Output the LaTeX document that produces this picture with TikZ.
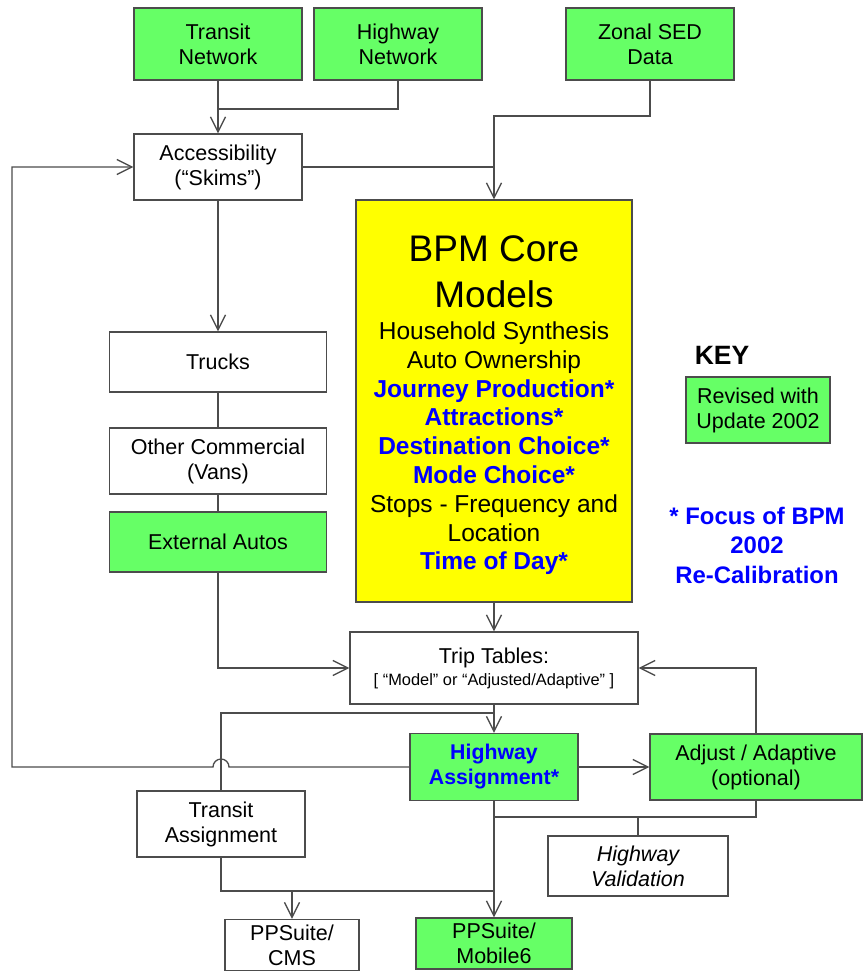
\documentclass[tikz,border=0pt]{standalone}
\usepackage{fontspec}
\setmainfont{Liberation Sans}
\usepackage{tikz}
\usetikzlibrary{arrows.meta}
\definecolor{grn}{rgb}{0.4,1,0.4}
\definecolor{yel}{rgb}{1,1,0}
\definecolor{blu}{rgb}{0,0,1}
\definecolor{ln}{rgb}{0.3,0.3,0.3}
\tikzstyle{box}=[draw=ln,line width=1.4pt,fill=white,inner sep=0pt,align=center,font=\fontsize{21.5}{25}\selectfont]
\tikzstyle{upd}=[box,fill=grn]
\tikzstyle{hot}=[font=\fontsize{21.3}{25}\bfseries\selectfont,text=blu]

\begin{document}
\begin{tikzpicture}[x=1pt,y=-1pt,line width=1.3pt,draw=ln,>={Straight Barb[length=15pt,width=15pt]}]
	\useasboundingbox (0,0) rectangle (862,973);

	% inputs
	\draw node[upd,minimum width=168,minimum height=72] (tn) at (218,44) {Transit\\Network};
	\draw node[upd,minimum width=168,minimum height=72] (hn) at (398,44) {Highway\\Network};
	\draw node[upd,minimum width=168,minimum height=72] (sed) at (650,44) {Zonal SED\\Data};
	\draw node[box,minimum width=168,minimum height=66] (acc) at (218,167) {Accessibility\\(“Skims”)};

	% core
	\draw node[box,fill=yel,minimum width=276,minimum height=402,font=\fontsize{24.5}{28.8}\selectfont] (core) at (494,401)
		{\rule{0pt}{35pt}{\fontsize{37}{40}\selectfont BPM Core}\\[17pt]
		 {\fontsize{37}{40}\selectfont Models}\\[3pt]
		 Household Synthesis\\
		 Auto Ownership\\
		 {\bfseries\color{blu}Journey Production*}\\
		 {\bfseries\color{blu}Attractions*}\\
		 {\bfseries\color{blu}Destination Choice*}\\
		 {\bfseries\color{blu}Mode Choice*}\\
		 Stops - Frequency and\\
		 Location\\
		 {\bfseries\color{blu}Time of Day*}};

	% left column
	\draw node[box,minimum width=217,minimum height=60] (trk) at (218,362) {Trucks};
	\draw node[box,minimum width=217,minimum height=66] (oc) at (218,461) {Other Commercial\\(Vans)};
	\draw node[upd,minimum width=217,minimum height=60] (ext) at (218,542) {External Autos};

	% key
	\draw node[font=\fontsize{26.5}{28}\bfseries\selectfont] (key) at (722,355) {KEY};
	\draw node[upd,minimum width=144,minimum height=66] (rev) at (758,410) {Revised with\\Update 2002};
	\draw node[align=center,text=blu,font=\fontsize{23.9}{29.5}\bfseries\selectfont] (focus) at (757,545) {* Focus of BPM\\2002\\Re-Calibration};

	% assignment
	\draw node[box,minimum width=288,minimum height=72] (trip) at (494,668)
		{Trip Tables:\\[-3pt]{\fontsize{16.4}{18}\selectfont [ “Model” or “Adjusted/Adaptive” ]}};
	\draw node[upd,hot,minimum width=168,minimum height=67] (hwa) at (494,767) {Highway\\Assignment*};
	\draw node[upd,minimum width=212,minimum height=66] (adj) at (756,767) {Adjust / Adaptive\\(optional)};
	\draw node[box,minimum width=168,minimum height=66] (tra) at (221,824) {Transit\\Assignment};
	\draw node[box,minimum width=180,minimum height=60,font=\fontsize{21.5}{25}\itshape\selectfont] (val) at (638,866) {Highway\\Validation};
	\draw node[box,minimum width=134,minimum height=51] (cms) at (292,945) {PPSuite/\\CMS};
	\draw node[upd,minimum width=156,minimum height=51] (mob) at (494,943.5) {PPSuite/\\Mobile6};

	\coordinate (j1) at (218,109);
	\coordinate (j2) at (494,116);
	\coordinate (j3) at (494,713);
	\coordinate (j4) at (494,817);
	\coordinate (j5) at (494,891);

	\path
	(tn) edge[->] (acc)
	(acc) edge[->] (trk)
	(trk) edge[] (oc)
	(oc) edge[] (ext)
	(core) edge[->] (trip)
	(trip) edge[->] (hwa)
	(hwa) edge[->] (adj)
	(hwa) edge[->] (mob)
	;

	\draw (hn.south) |- (j1);
	\draw[->] (sed.south) |- (j2) -- (core.north);
	\draw (acc.east) -- (acc.east -| j2);
	\draw[->] (ext.south) |- (trip.west);
	\draw (j3) -| (tra.north);
	\draw[->] (hwa.west) -- (229,767) arc[start angle=0,end angle=180,radius=8pt] -- (12,767) |- (acc.west);
	\draw[->] (adj.north) |- (trip.east);
	\draw (adj.south) |- (j4);
	\draw (val.north) -- (val.north |- j4);
	\draw (tra.south) |- (j5);
	\draw[->] (cms.north |- j5) -- (cms.north);
\end{tikzpicture}
\end{document}
